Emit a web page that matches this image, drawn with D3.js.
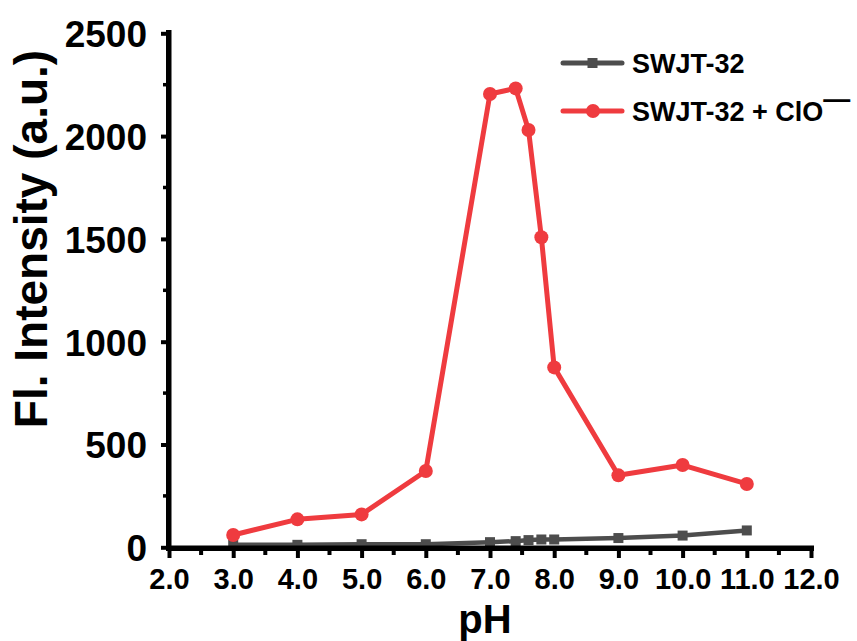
<!DOCTYPE html>
<html>
<head>
<meta charset="utf-8">
<script src="https://cdn.jsdelivr.net/npm/d3@7"></script>
<style>
  html, body { margin: 0; padding: 0; background: #fff; }
  svg { display: block; font-family: "Liberation Sans", Arial, sans-serif; font-weight: bold; }
</style>
</head>
<body>
<svg id="chart" width="857" height="641"></svg>
<script>
const pH = [3.0, 4.0, 5.0, 6.0, 7.0, 7.4, 7.6, 7.8, 8.0, 9.0, 10.0, 11.0];
const swjt = [12, 12, 15, 15, 25, 30, 35, 38, 38, 45, 57, 82];
const swjtClO = [60, 136, 160, 371, 2205, 2232, 2030, 1508, 875, 350, 400, 308];
const xTicks = [2, 3, 4, 5, 6, 7, 8, 9, 10, 11, 12];
const yTicks = [0, 500, 1000, 1500, 2000, 2500];
const seriesNames = ["SWJT-32", "SWJT-32 + ClO"];
const colors = ["#4d4d4d", "#ef3b3f"];

const svg = d3.select("#chart");
const x = d3.scaleLinear().domain([2, 12]).range([169, 811]);
const y = d3.scaleLinear().domain([0, 2500]).range([547.3, 33.3]);

const line = d3.line().x((d, i) => x(pH[i])).y(d => y(d));

// gray series
svg.append("path").datum(swjt).attr("d", line)
  .attr("fill", "none").attr("stroke", colors[0]).attr("stroke-width", 4.5);
svg.selectAll(".sq").data(swjt).enter().append("rect")
  .attr("x", (d, i) => x(pH[i]) - 5).attr("y", d => y(d) - 5)
  .attr("width", 10).attr("height", 10).attr("fill", colors[0]);

// red series
svg.append("path").datum(swjtClO).attr("d", line)
  .attr("fill", "none").attr("stroke", colors[1]).attr("stroke-width", 5)
  .attr("stroke-linejoin", "round");
svg.selectAll(".ci").data(swjtClO).enter().append("circle")
  .attr("cx", (d, i) => x(pH[i])).attr("cy", d => y(d)).attr("r", 7)
  .attr("fill", colors[1]);

// axes (labels from d3 axes, tick marks drawn with thick strokes)
const xAxis = svg.append("g").attr("transform", "translate(0,548)")
  .call(d3.axisBottom(x).tickValues(xTicks).tickFormat(d3.format(".1f")).tickSize(10).tickPadding(10));
const yAxis = svg.append("g").attr("transform", "translate(169,0)")
  .call(d3.axisLeft(y).tickValues(yTicks).tickFormat(d3.format("d")).tickSize(8).tickPadding(14));

[xAxis, yAxis].forEach(g => {
  g.select(".domain").remove();
  g.selectAll(".tick line").style("stroke", "#000").style("stroke-width", "4px");
  g.selectAll(".tick text").attr("fill", "#000").attr("font-family", "Liberation Sans, Arial, sans-serif").attr("font-weight", "bold");
});
xAxis.selectAll(".tick text").attr("font-size", 29);
yAxis.selectAll(".tick text").attr("font-size", 37).attr("dy", "0.36em");

// axis lines
svg.append("rect").attr("x", 166).attr("y", 30).attr("width", 5.5).attr("height", 521).attr("fill", "#000");
svg.append("rect").attr("x", 166).attr("y", 545.5).attr("width", 648).attr("height", 5.5).attr("fill", "#000");

// minor ticks
const xMinor = d3.range(2.5, 12, 1);
svg.append("g").selectAll("rect").data(xMinor).enter().append("rect")
  .attr("x", d => x(d) - 2).attr("y", 548).attr("width", 4).attr("height", 7).attr("fill", "#000");
const yMinor = d3.range(250, 2500, 500);
svg.append("g").selectAll("rect").data(yMinor).enter().append("rect")
  .attr("x", 163).attr("y", d => y(d) - 1.75).attr("width", 6).attr("height", 3.5).attr("fill", "#000");

// axis titles
svg.append("text").attr("x", 485).attr("y", 633).attr("text-anchor", "middle")
  .attr("font-size", 40).text("pH");
svg.append("text").attr("transform", "translate(47,239) rotate(-90)")
  .attr("text-anchor", "middle").attr("font-size", 46).text("Fl. Intensity (a.u.)");

// legend
const legY = [63, 111];
seriesNames.forEach((name, i) => {
  svg.append("line").attr("x1", 563).attr("x2", 622).attr("y1", legY[i]).attr("y2", legY[i])
    .attr("stroke", colors[i]).attr("stroke-width", 5).attr("stroke-linecap", "round");
  if (i === 0) {
    svg.append("rect").attr("x", 587.5).attr("y", legY[i] - 5).attr("width", 10).attr("height", 10).attr("fill", colors[i]);
  } else {
    svg.append("circle").attr("cx", 593).attr("cy", legY[i]).attr("r", 7).attr("fill", colors[i]);
  }
  const t = svg.append("text").attr("x", 632).attr("y", legY[i] + 10).attr("font-size", 27).text(name);
  if (i === 1) {
    t.append("tspan").attr("dy", -13).attr("font-size", 27).text("—");
  }
});
</script>
</body>
</html>
